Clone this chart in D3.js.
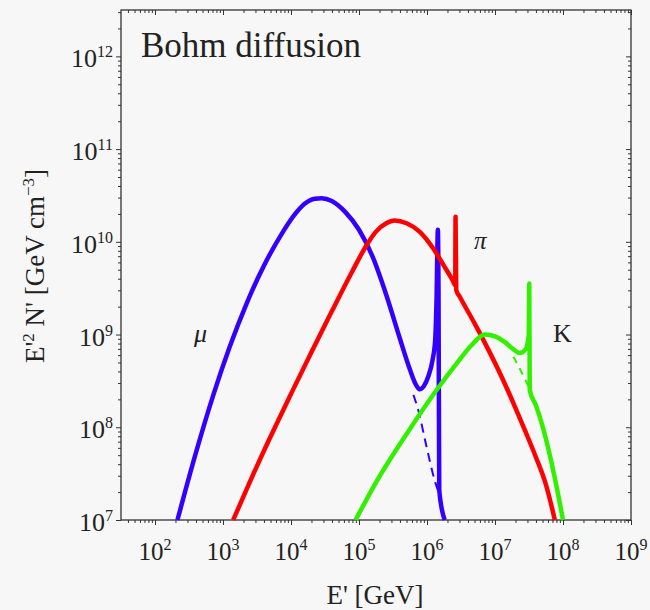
<!DOCTYPE html>
<html>
<head>
<meta charset="utf-8">
<script src="https://cdn.jsdelivr.net/npm/d3@7"></script>
<style>
body { margin: 0; background: #f7f7f7; }
text { font-family: "Liberation Serif", "DejaVu Serif", serif; fill: #222; }
</style>
</head>
<body>
<svg id="chart" width="650" height="610"></svg>
<script>
// curves, as [log10 E', log10 E'^2 N']
var muon = [[2.33,7.00],[2.60,7.72],[2.85,8.33],[3.10,8.87],[3.35,9.34],[3.60,9.74],[3.85,10.07],
	[4.05,10.29],[4.20,10.41],[4.35,10.465],[4.45,10.47],[4.60,10.44],[4.80,10.32],[5.00,10.13],
	[5.20,9.84],[5.40,9.43],[5.60,8.96],[5.75,8.62],[5.83,8.47],[5.89,8.41],[5.95,8.44],
	[6.02,8.55],[6.08,8.72],[6.12,8.94],[6.14,9.37],[6.16,10.13],[6.17,9.37],[6.18,7.32],
	[6.26,7.00]];
var muonDashed = [[5.80,8.35],[5.87,8.19],[5.99,7.80],[6.12,7.41],[6.17,7.30]];

var pion = [[3.15,7.00],[3.40,7.42],[3.70,7.90],[4.00,8.36],[4.30,8.81],[4.60,9.25],[4.90,9.68],
	[5.10,9.95],[5.25,10.11],[5.40,10.20],[5.52,10.23],[5.70,10.20],[5.89,10.11],[6.09,9.93],
	[6.25,9.74],[6.38,9.58],[6.415,9.53],[6.42,10.27],[6.43,9.48],[6.48,9.41],[6.70,9.12],
	[6.90,8.84],[7.10,8.54],[7.30,8.21],[7.45,7.95],[7.60,7.68],[7.75,7.38],[7.88,7.00]];

var kaon = [[4.95,7.00],[5.23,7.38],[5.72,7.95],[6.12,8.38],[6.46,8.71],[6.66,8.89],[6.85,9.00],
	[7.00,8.98],[7.14,8.92],[7.29,8.83],[7.36,8.80],[7.45,8.84],[7.496,8.99],[7.504,9.55],
	[7.511,8.40],[7.60,8.24],[7.70,8.01],[7.80,7.72],[7.90,7.38],[8.00,7.00]];
var kaonDashed = [[7.27,8.76],[7.33,8.68],[7.40,8.58],[7.49,8.44],[7.51,8.40]];

var xDecades = [2, 3, 4, 5, 6, 7, 8, 9];
var yDecades = [7, 8, 9, 10, 11, 12];

var svg = d3.select("#chart");
var frame = {left: 121, right: 631, top: 10, bottom: 520};

var x = d3.scaleLog().domain([Math.pow(10, 1.5), 1e9]).range([frame.left, frame.right]);
var y = d3.scaleLog().domain([1e7, Math.pow(10, 12.5)]).range([frame.bottom, frame.top]);

var majorX = xDecades.map(function(k) { return Math.pow(10, k); });
var majorY = yDecades.map(function(k) { return Math.pow(10, k); });
var minorX = [], minorY = [];
for (var k = 1; k <= 9; k++) {
	for (var m = 2; m <= 9; m++) {
		var v = m * Math.pow(10, k);
		if (v > x.domain()[0] && v < x.domain()[1]) minorX.push(v);
	}
}
for (var k = 7; k <= 12; k++) {
	for (var m = 2; m <= 9; m++) {
		var v = m * Math.pow(10, k);
		if (v < y.domain()[1]) minorY.push(v);
	}
}

function ticks(axis, vals, size, tx, ty) {
	var g = svg.append("g")
		.attr("transform", "translate(" + tx + "," + ty + ")")
		.call(axis.tickValues(vals).tickSize(size).tickSizeOuter(0).tickFormat(""));
	g.select(".domain").remove();
	g.selectAll("line").attr("stroke", "#333").attr("stroke-width", 1);
}

// bottom & left point out, top & right point in
ticks(d3.axisBottom(x), majorX, 5, 0, frame.bottom);
ticks(d3.axisBottom(x), minorX, 3, 0, frame.bottom);
ticks(d3.axisBottom(x), majorX, 5, 0, frame.top);
ticks(d3.axisBottom(x), minorX, 3, 0, frame.top);
ticks(d3.axisLeft(y), majorY, 5, frame.left, 0);
ticks(d3.axisLeft(y), minorY, 3, frame.left, 0);
ticks(d3.axisLeft(y), majorY, 5, frame.right, 0);
ticks(d3.axisLeft(y), minorY, 3, frame.right, 0);

svg.append("rect")
	.attr("x", frame.left).attr("y", frame.top)
	.attr("width", frame.right - frame.left).attr("height", frame.bottom - frame.top)
	.attr("fill", "none").attr("stroke", "#333").attr("stroke-width", 1.3);

function powLabel(g, k) {
	g.append("tspan").text("10");
	g.append("tspan").attr("dy", -10).attr("font-size", 16).text(k);
}

xDecades.forEach(function(k) {
	var t = svg.append("text")
		.attr("x", x(Math.pow(10, k)))
		.attr("y", 560)
		.attr("text-anchor", "middle")
		.attr("font-size", 25);
	powLabel(t, k);
});

yDecades.forEach(function(k) {
	var t = svg.append("text")
		.attr("x", 113)
		.attr("y", y(Math.pow(10, k)) + 11)
		.attr("text-anchor", "end")
		.attr("font-size", 26);
	powLabel(t, k);
});

// axis titles
svg.append("text")
	.attr("x", 375).attr("y", 604)
	.attr("text-anchor", "middle")
	.attr("font-size", 27)
	.text("E' [GeV]");

var yt = svg.append("text")
	.attr("transform", "translate(44,266) rotate(-90)")
	.attr("text-anchor", "middle")
	.attr("font-size", 27);
yt.append("tspan").text("E'");
yt.append("tspan").attr("dy", -10).attr("font-size", 17).text("2");
yt.append("tspan").attr("dy", 10).text(" N'  [GeV cm");
yt.append("tspan").attr("dy", -10).attr("font-size", 17).text("\u22123");
yt.append("tspan").attr("dy", 10).text("]");

svg.append("text")
	.attr("x", 141).attr("y", 57)
	.attr("font-size", 35)
	.text("Bohm diffusion");

var line = d3.line()
	.x(function(d) { return x(Math.pow(10, d[0])); })
	.y(function(d) { return y(Math.pow(10, d[1])); })
	.curve(d3.curveMonotoneX);

var plot = svg.append("g");

function curve(data, color, width, dash) {
	plot.append("path")
		.datum(data)
		.attr("d", line)
		.attr("fill", "none")
		.attr("stroke", color)
		.attr("stroke-width", width)
		.attr("stroke-linejoin", "round")
		.attr("stroke-dasharray", dash || null);
}

curve(muon, "#3300ff", 4.5);
curve(muonDashed, "#3300ff", 2, "9,6");
curve(pion, "#ff0000", 4.5);
curve(kaon, "#33f000", 4.5);
curve(kaonDashed, "#33f000", 2, "7,6");

svg.append("text").attr("x", 194).attr("y", 342)
	.attr("font-size", 26).attr("font-style", "italic").text("\u03bc");
svg.append("text").attr("x", 474).attr("y", 249)
	.attr("font-size", 25).attr("font-style", "italic").text("\u03c0");
svg.append("text").attr("x", 553).attr("y", 342)
	.attr("font-size", 26).text("K");
</script>
</body>
</html>
